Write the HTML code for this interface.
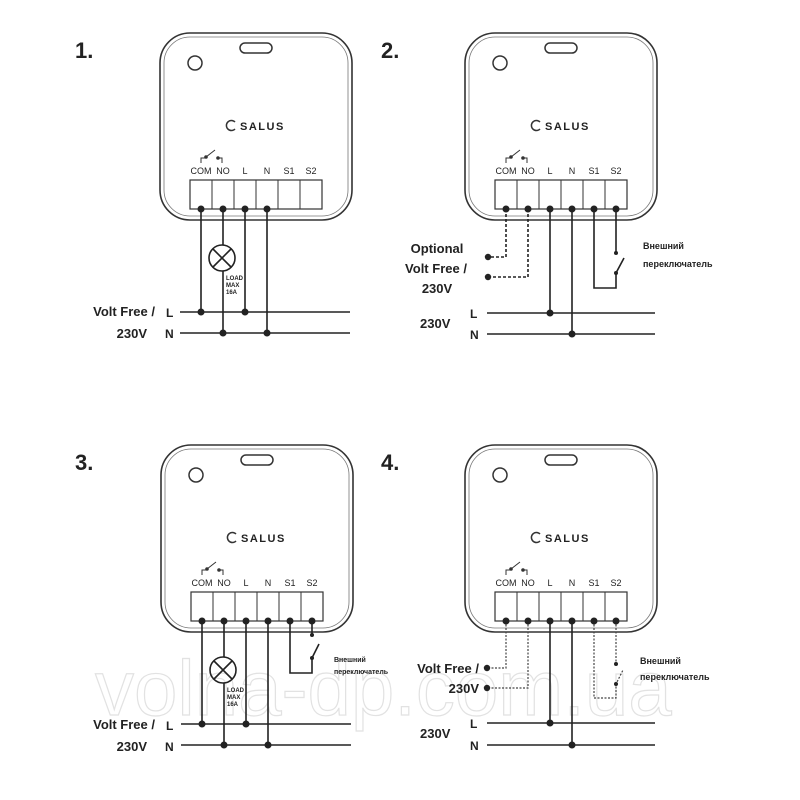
<!DOCTYPE html>
<html><head><meta charset="utf-8"><style>
html,body{margin:0;padding:0;background:#fff}
svg{display:block}
text{font-family:"Liberation Sans","DejaVu Sans",sans-serif;fill:#222}
.b{font-weight:bold}
</style></head><body>
<svg width="800" height="800" viewBox="0 0 800 800" xmlns="http://www.w3.org/2000/svg">
<defs>
<g id="box" fill="none" stroke="#333">
  <rect x="160" y="33" width="192" height="187" rx="30" stroke-width="1.6"/>
  <rect x="164" y="37" width="184" height="179" rx="26" stroke-width="0.8" stroke="#777"/>
  <rect x="240" y="43" width="32" height="10" rx="5" stroke-width="1.5"/>
  <circle cx="195" cy="63" r="7" stroke-width="1.5"/>
  <rect x="190" y="180" width="132" height="29" stroke-width="1.2"/>
  <path d="M212 180V209M234 180V209M256 180V209M278 180V209M300 180V209" stroke-width="1"/>
  <path d="M201 163V158H206M206 157L215 150M218 158H222V163" stroke-width="1"/>
  <circle cx="206" cy="157" r="1.3" fill="#333"/><circle cx="218" cy="158" r="1.3" fill="#333"/>
  <path d="M235 122a5 5 0 1 0 0 7" stroke-width="1.5"/>
</g>
</defs>

<!-- watermark -->
<text x="95" y="715" font-size="78" stroke="#e2e2e2" stroke-width="1.2" style="fill:none">volna-dp.com.ua</text>

<!-- ===== 1 ===== -->
<text x="75" y="58" font-size="22" class="b">1.</text>
<use href="#box"/>
<text x="240" y="130" font-size="11" letter-spacing="1.5" class="b" fill="#333">SALUS</text>
<g font-size="9" text-anchor="middle"><text x="201" y="174">COM</text><text x="223" y="174">NO</text><text x="245" y="174">L</text><text x="267" y="174">N</text><text x="289" y="174">S1</text><text x="311" y="174">S2</text></g>
<g stroke="#222" stroke-width="1.6" fill="none">
<path d="M180 312H350M180 333H350"/>
<path d="M201 209V312M245 209V312M267 209V333M223 209V245M223 271V333"/>
<circle cx="222" cy="258" r="13"/><path d="M213 249L231 267M231 249L213 267"/>
</g>
<g fill="#222"><circle cx="201" cy="209" r="3.5"/><circle cx="223" cy="209" r="3.5"/><circle cx="245" cy="209" r="3.5"/><circle cx="267" cy="209" r="3.5"/>
<circle cx="201" cy="312" r="3.5"/><circle cx="245" cy="312" r="3.5"/><circle cx="223" cy="333" r="3.5"/><circle cx="267" cy="333" r="3.5"/></g>
<g font-size="6" class="b"><text x="226" y="280">LOAD</text><text x="226" y="287">MAX</text><text x="226" y="294">16A</text></g>
<text x="155" y="316" font-size="13" class="b" text-anchor="end">Volt Free /</text>
<text x="147" y="338" font-size="13" class="b" text-anchor="end">230V</text>
<text x="166" y="317" font-size="12" class="b">L</text><text x="165" y="338" font-size="12" class="b">N</text>

<!-- ===== 2 ===== -->
<text x="381" y="58" font-size="22" class="b">2.</text>
<g transform="translate(305,0)"><use href="#box"/>
<text x="240" y="130" font-size="11" letter-spacing="1.5" class="b" fill="#333">SALUS</text>
<g font-size="9" text-anchor="middle"><text x="201" y="174">COM</text><text x="223" y="174">NO</text><text x="245" y="174">L</text><text x="267" y="174">N</text><text x="289" y="174">S1</text><text x="311" y="174">S2</text></g>
<g stroke="#222" stroke-width="1.6" fill="none">
<path d="M182 313H350M182 334H350M245 209V313M267 209V334"/>
<path d="M201 209V257H183M223 209V277H183" stroke-dasharray="3 2"/>
<path d="M289 209V288H311V273L319 258M311 209V253"/>
</g>
<g fill="#222"><circle cx="201" cy="209" r="3.5"/><circle cx="223" cy="209" r="3.5"/><circle cx="245" cy="209" r="3.5"/><circle cx="267" cy="209" r="3.5"/><circle cx="289" cy="209" r="3.5"/><circle cx="311" cy="209" r="3.5"/>
<circle cx="245" cy="313" r="3.5"/><circle cx="267" cy="334" r="3.5"/><circle cx="183" cy="257" r="3.2"/><circle cx="183" cy="277" r="3.2"/><circle cx="311" cy="253" r="2"/><circle cx="311" cy="273" r="2"/></g>
</g>
<g font-size="13" class="b" text-anchor="middle"><text x="437" y="253">Optional</text><text x="436" y="273">Volt Free /</text><text x="437" y="293">230V</text></g>
<text x="420" y="328" font-size="13" class="b">230V</text>
<text x="470" y="318" font-size="12" class="b">L</text><text x="470" y="339" font-size="12" class="b">N</text>
<g font-size="9" class="b"><text x="643" y="249">Внешний</text><text x="643" y="267">переключатель</text></g>

<!-- ===== 3 ===== -->
<text x="75" y="470" font-size="22" class="b">3.</text>
<g transform="translate(1,412)"><use href="#box"/>
<text x="240" y="130" font-size="11" letter-spacing="1.5" class="b" fill="#333">SALUS</text>
<g font-size="9" text-anchor="middle"><text x="201" y="174">COM</text><text x="223" y="174">NO</text><text x="245" y="174">L</text><text x="267" y="174">N</text><text x="289" y="174">S1</text><text x="311" y="174">S2</text></g>
<g stroke="#222" stroke-width="1.6" fill="none">
<path d="M180 312H350M180 333H350"/>
<path d="M201 209V312M245 209V312M267 209V333M223 209V245M223 271V333"/>
<circle cx="222" cy="258" r="13"/><path d="M213 249L231 267M231 249L213 267"/>
<path d="M289 209V261H311V246L318 232M311 209V223"/>
</g>
<g fill="#222"><circle cx="201" cy="209" r="3.5"/><circle cx="223" cy="209" r="3.5"/><circle cx="245" cy="209" r="3.5"/><circle cx="267" cy="209" r="3.5"/><circle cx="289" cy="209" r="3.5"/><circle cx="311" cy="209" r="3.5"/>
<circle cx="201" cy="312" r="3.5"/><circle cx="245" cy="312" r="3.5"/><circle cx="223" cy="333" r="3.5"/><circle cx="267" cy="333" r="3.5"/><circle cx="311" cy="223" r="2"/><circle cx="311" cy="246" r="2"/></g>
<g font-size="6" class="b"><text x="226" y="280">LOAD</text><text x="226" y="287">MAX</text><text x="226" y="294">16A</text></g>
<text x="154" y="317" font-size="13" class="b" text-anchor="end">Volt Free /</text>
<text x="146" y="339" font-size="13" class="b" text-anchor="end">230V</text>
<text x="165" y="318" font-size="12" class="b">L</text><text x="164" y="339" font-size="12" class="b">N</text>
<g font-size="7" class="b"><text x="333" y="250">Внешний</text><text x="333" y="262">переключатель</text></g>
</g>

<!-- ===== 4 ===== -->
<text x="381" y="470" font-size="22" class="b">4.</text>
<g transform="translate(305,412)"><use href="#box"/>
<text x="240" y="130" font-size="11" letter-spacing="1.5" class="b" fill="#333">SALUS</text>
<g font-size="9" text-anchor="middle"><text x="201" y="174">COM</text><text x="223" y="174">NO</text><text x="245" y="174">L</text><text x="267" y="174">N</text><text x="289" y="174">S1</text><text x="311" y="174">S2</text></g>
<g stroke="#222" stroke-width="1.6" fill="none">
<path d="M182 311H350M182 333H350M245 209V311M267 209V333"/>
</g>
<g stroke="#444" stroke-width="1.2" fill="none" stroke-dasharray="2 1.5">
<path d="M201 209V256H182M223 209V276H182"/>
<path d="M289 209V286H311V272L318 258M311 209V252"/>
</g>
<g fill="#222"><circle cx="201" cy="209" r="3.5"/><circle cx="223" cy="209" r="3.5"/><circle cx="245" cy="209" r="3.5"/><circle cx="267" cy="209" r="3.5"/><circle cx="289" cy="209" r="3.5"/><circle cx="311" cy="209" r="3.5"/>
<circle cx="245" cy="311" r="3.5"/><circle cx="267" cy="333" r="3.5"/><circle cx="182" cy="256" r="3.2"/><circle cx="182" cy="276" r="3.2"/><circle cx="311" cy="252" r="2"/><circle cx="311" cy="272" r="2"/></g>
</g>
<g font-size="13" class="b" text-anchor="end"><text x="479" y="673">Volt Free /</text><text x="479" y="693">230V</text></g>
<text x="420" y="738" font-size="13" class="b">230V</text>
<text x="470" y="728" font-size="12" class="b">L</text><text x="470" y="750" font-size="12" class="b">N</text>
<g font-size="9" class="b"><text x="640" y="664">Внешний</text><text x="640" y="680">переключатель</text></g>
</svg>
</body></html>
